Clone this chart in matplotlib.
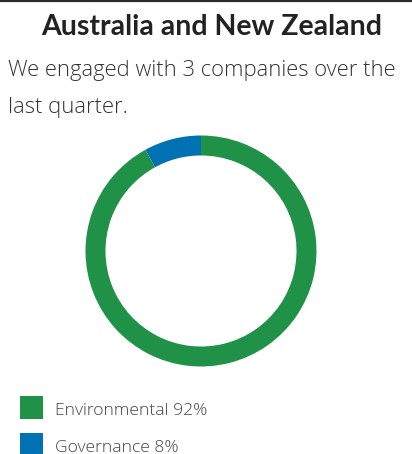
import matplotlib
matplotlib.use("Agg")
import matplotlib.pyplot as plt
from matplotlib.patches import Rectangle
from matplotlib.lines import Line2D

title = "Australia and New Zealand"
subtitle = ["We engaged with 3 companies over the", "last quarter."]
labels = ["Governance", "Environmental"]
shares = [8, 92]
colors = ["#0071b3", "#1f9248"]
legend_order = [1, 0]

W, H = 412, 454
fig = plt.figure(figsize=(W / 100, H / 100), dpi=100)
fig.patch.set_facecolor("white")

def fx(px):
    return px / W

def fy(py):
    return 1 - py / H

body_font = "Open Sans"

# rule across the top
fig.add_artist(Line2D([0, 1], [fy(1), fy(1)], color="#2b2b2b", lw=1.6,
                      transform=fig.transFigure))

fig.text(fx(212), fy(35), title, ha="center", va="baseline", fontsize=20.5,
         fontweight="bold", family="Lato", color="#222222")
for k, line in enumerate(subtitle):
    fig.text(fx(8), fy(76 + 37 * k), line, ha="left", va="baseline",
             fontsize=15.8, fontweight=300, family=body_font, color="#333333")

# donut
cx, cy, r = 201, 251, 115.5
ax = fig.add_axes([fx(cx - r), fy(cy + r), 2 * r / W, 2 * r / H])
ax.pie(shares, colors=colors, startangle=90, counterclock=True, radius=1,
       wedgeprops=dict(width=0.173, edgecolor="none"))
ax.set_xlim(-1, 1)
ax.set_ylim(-1, 1)
ax.axis("off")

# legend
for row, i in enumerate(legend_order):
    top = 396 + row * 37
    fig.add_artist(Rectangle((fx(20), fy(top + 23)), 23 / W, 23 / H,
                             transform=fig.transFigure, color=colors[i], lw=0))
    fig.text(fx(55), fy(top + 19), f"{labels[i]} {shares[i]}%", ha="left",
             va="baseline", fontsize=12.6, fontweight=300, family=body_font,
             color="#444444")

fig.savefig("out.png", dpi=100, facecolor="white")
